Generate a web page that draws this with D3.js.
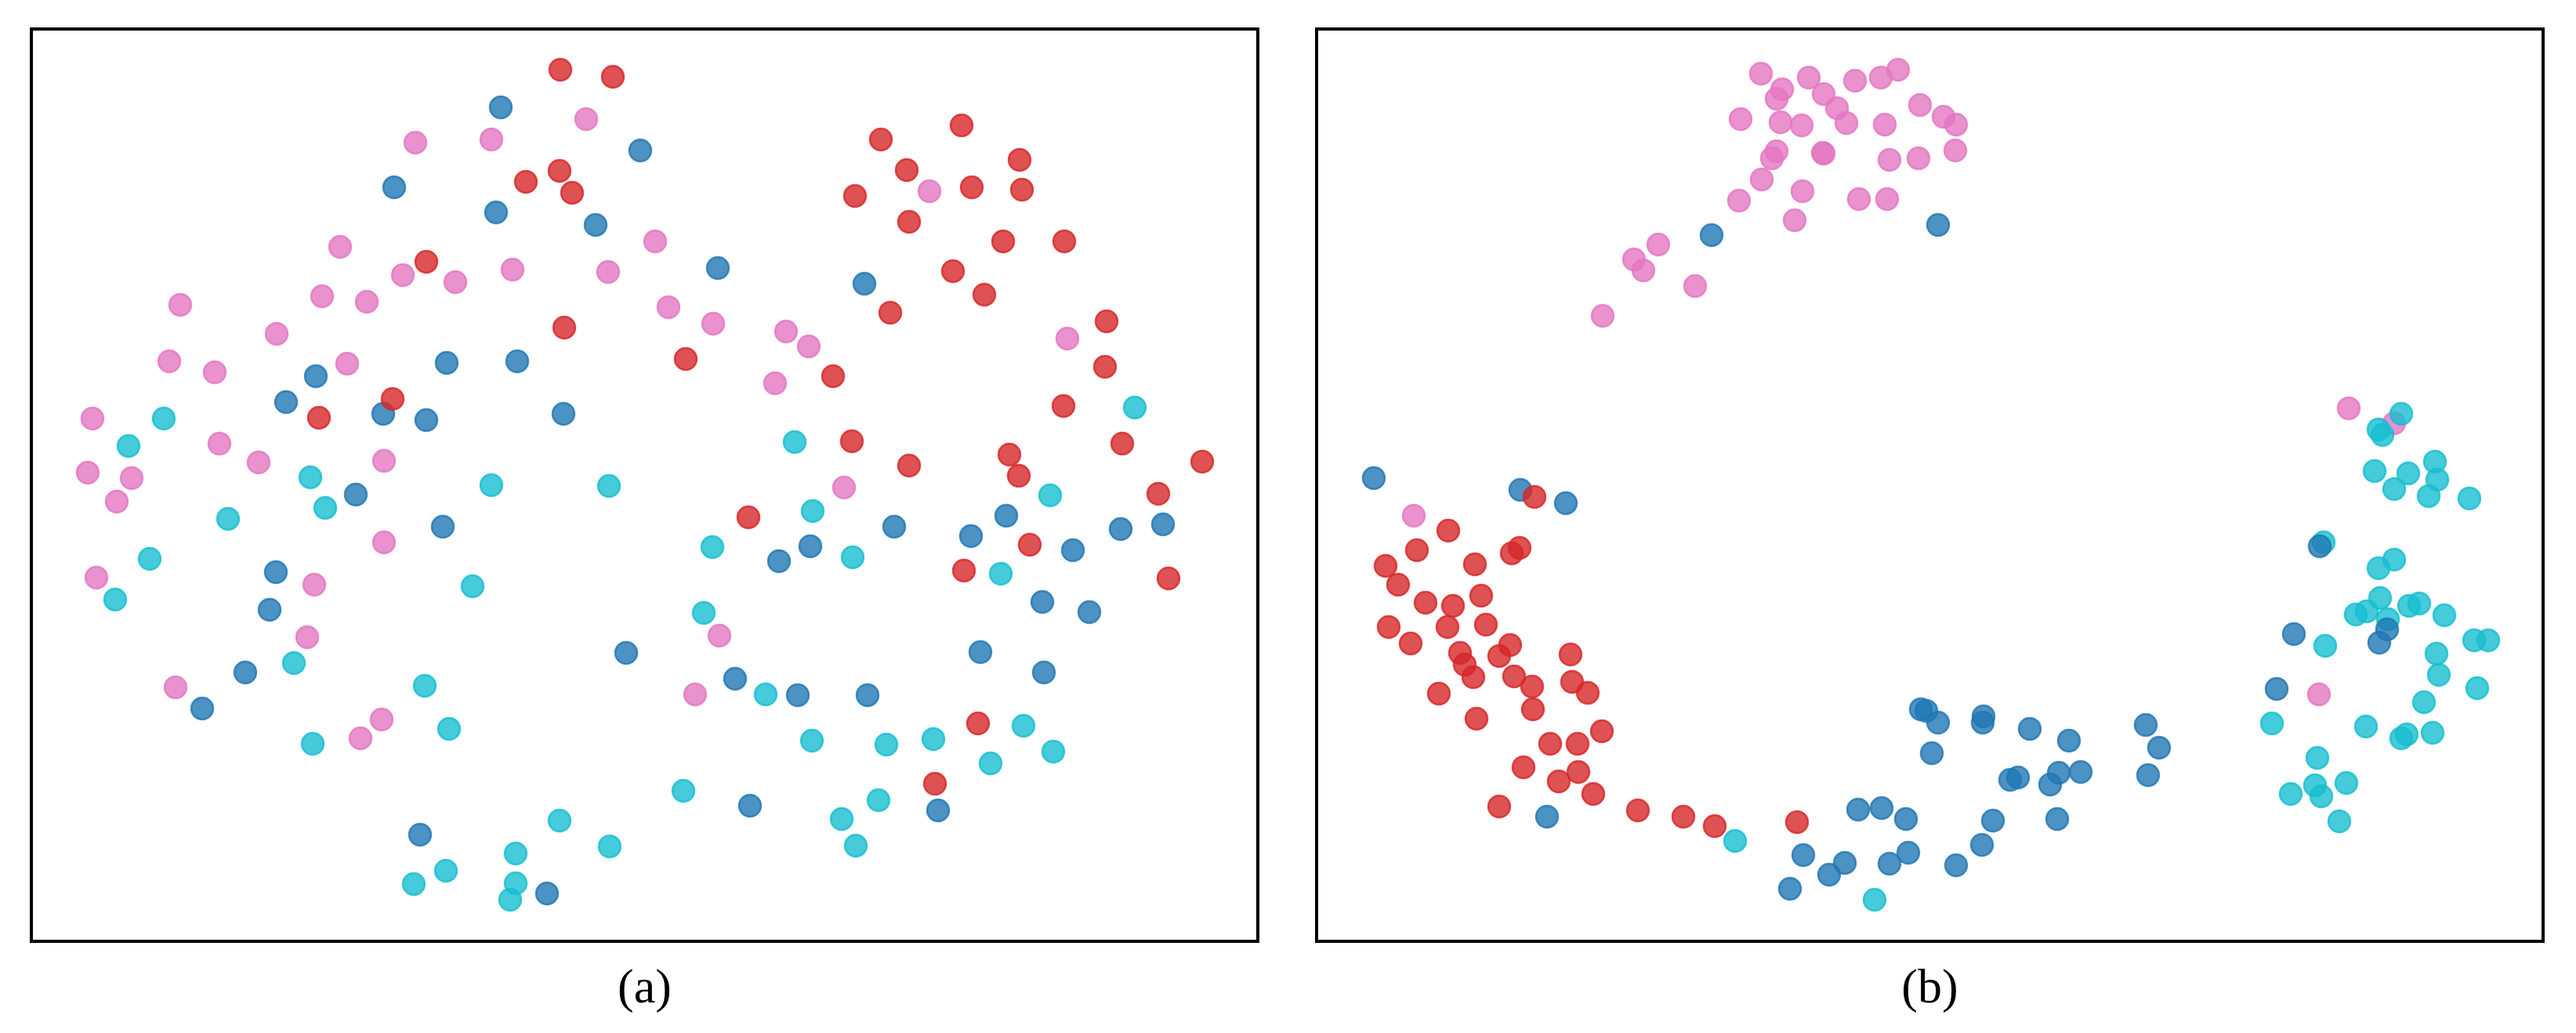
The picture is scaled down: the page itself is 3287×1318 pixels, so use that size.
<!DOCTYPE html>
<html>
<head>
<meta charset="utf-8">
<script src="https://cdn.jsdelivr.net/npm/d3@7"></script>
<style>
  body { margin: 0; background: #fff; }
  .label { font-family: "Liberation Serif", "Times New Roman", serif; font-size: 62px; }
</style>
</head>
<body>
<div id="chart"></div>
<script>
// classes, in the order they are drawn
const classes = ["c3", "c4", "c1", "c2"];
const colors = { c1: "#1f77b4", c2: "#d62728", c3: "#e377c2", c4: "#17becf" };
const panelLabels = ["(a)", "(b)"];

// panel (a) embedding
const aRed = [[67.5,111.2],[74.2,110.3],[67.4,98.3],[63.1,96.9],[69.0,95.5],[50.4,86.7],[68.0,78.3],[46.1,69.2],[36.7,66.8],
  [118.7,104.1],[108.4,102.3],[126.1,99.7],[111.7,98.4],[120.0,96.2],[126.4,95.9],[105.1,95.1],[112.0,91.8],[124.0,89.3],
  [131.8,89.3],[117.6,85.5],[121.6,82.5],[109.6,80.2],[137.2,79.1],[83.5,74.3],[137.0,73.3],[102.3,72.1],[131.7,68.3],
  [104.7,63.8],[112.0,60.7],[124.8,62.1],[126.0,59.4],[139.2,63.5],[149.4,61.2],[143.8,57.1],[91.5,54.1],[127.4,50.6],
  [119.0,47.3],[145.1,46.3],[120.8,27.8],[115.3,20.1]];
const aBlue = [[59.9,106.4],[77.7,100.9],[46.3,96.2],[59.3,93.0],[72.0,91.4],[36.3,72.1],[53.0,73.8],[62.0,74.0],[32.5,68.8],
  [44.9,67.3],[50.4,66.5],[67.9,67.3],[41.4,57.0],[52.5,52.9],[31.2,47.1],[30.4,42.3],[75.9,36.8],[27.3,34.3],[21.8,29.7],
  [49.6,13.6],[65.8,6.1],[87.6,85.9],[106.3,83.9],[110.1,52.9],[124.4,54.3],[119.9,51.7],[139.0,52.6],[144.4,53.2],
  [95.4,48.5],[99.4,50.4],[132.9,49.9],[129.0,43.3],[135.0,42.0],[121.1,36.9],[129.2,34.3],[89.8,33.5],[97.8,31.4],
  [106.7,31.4],[91.7,17.3],[115.7,16.7]];
const aPink = [[70.8,104.9],[49.0,101.9],[58.7,102.3],[79.6,89.3],[39.4,88.6],[47.4,85.0],[54.1,84.1],[61.4,85.7],[73.6,85.4],
  [37.1,82.3],[42.8,81.6],[19.0,81.2],[31.3,77.5],[17.6,74.0],[23.4,72.6],[40.3,73.7],[7.8,66.7],[24.0,63.5],[29.0,61.1],
  [45.0,61.3],[7.2,59.8],[12.8,59.1],[10.9,56.1],[45.0,50.9],[8.3,46.4],[36.1,45.5],[35.2,38.8],[18.4,32.4],[44.7,28.3],
  [42.0,25.9],[114.6,95.7],[81.3,80.9],[87.0,78.8],[96.3,77.8],[99.2,75.9],[132.2,76.9],[94.9,71.2],[103.7,57.9],
  [87.8,39.0],[84.7,31.5]];
const aCyan = [[16.9,66.7],[12.4,63.2],[35.6,59.2],[58.7,58.2],[73.7,58.1],[37.5,55.3],[25.1,53.9],[15.1,48.8],[56.3,45.3],
  [10.7,43.6],[33.5,35.5],[50.2,32.6],[53.3,27.1],[35.9,25.2],[67.4,15.4],[73.8,12.1],[61.8,11.2],[52.9,9.0],[48.8,7.3],
  [61.8,7.4],[61.1,5.3],[140.8,68.1],[97.4,63.7],[130.0,56.9],[99.7,54.9],[86.9,50.3],[104.8,49.0],[123.7,46.9],[85.8,41.9],
  [93.7,31.5],[126.6,27.5],[99.6,25.6],[109.1,25.1],[115.1,25.8],[130.4,24.2],[122.4,22.7],[83.2,19.2],[108.1,18.0],
  [103.4,15.6],[105.2,12.2]];

// panel (b) embedding
const bRed = [[27.8,56.7],[16.8,52.4],[12.8,49.9],[25.9,50.2],[24.9,49.5],[20.2,48.1],[8.8,47.9],[10.4,45.5],[13.9,43.2],
  [17.4,42.8],[21.0,44.1],[9.2,40.1],[16.7,40.1],[21.6,40.4],[12.0,38.0],[24.7,37.8],[23.3,36.4],[18.3,36.8],[18.9,35.3],
  [20.0,33.7],[25.2,33.8],[27.5,32.5],[32.4,36.6],[32.6,33.1],[34.6,31.7],[15.6,31.6],[27.6,29.6],[20.4,28.4],[36.4,26.8],
  [29.8,25.2],[33.3,25.2],[26.4,22.2],[33.4,21.6],[30.9,20.4],[35.3,18.8],[23.3,17.2],[41.0,16.7],[46.8,15.9],[50.8,14.7],
  [61.3,15.2]];
const bBlue = [[50.4,90.1],[79.3,91.4],[7.3,59.1],[26.0,57.6],[31.8,55.9],[29.4,15.9],[77.1,29.6],[77.8,29.4],[79.3,27.9],
  [78.5,24.0],[69.1,16.8],[72.1,17.0],[75.2,15.6],[62.1,11.0],[67.4,10.0],[65.4,8.5],[73.1,9.9],[75.5,11.3],[60.4,6.7],
  [85.1,28.7],[85.0,27.9],[91.0,27.1],[96.0,25.6],[105.8,27.6],[107.5,24.7],[88.5,20.6],[89.5,20.9],[94.7,21.5],[93.6,20.0],
  [97.5,21.6],[106.1,21.2],[86.3,15.4],[94.5,15.6],[84.9,12.3],[81.6,9.7],[128.0,50.4],[136.6,39.8],[135.6,38.1],
  [124.7,39.2],[122.5,32.2]];
const bPink = [[56.7,110.7],[59.4,108.7],[58.7,107.5],[62.8,110.2],[64.7,108.1],[68.7,109.8],[72.0,110.2],[74.2,111.2],
  [66.4,106.3],[67.6,104.4],[54.1,104.9],[59.2,104.5],[61.9,104.1],[72.5,104.2],[77.0,106.7],[80.0,105.2],[81.6,104.2],
  [81.5,100.9],[58.7,100.8],[58.1,99.9],[64.6,100.6],[64.7,100.5],[73.1,99.7],[76.8,99.9],[56.8,97.2],[62.0,95.7],
  [53.9,94.5],[69.2,94.7],[72.8,94.7],[61.0,92.0],[43.6,88.9],[40.5,87.0],[41.7,85.6],[48.3,83.6],[36.5,79.8],[12.4,54.3],
  [131.7,68.0],[137.5,66.1],[127.9,31.5]];
const bCyan = [[53.4,12.8],[71.2,5.3],[138.4,67.3],[135.5,65.3],[136.0,64.6],[142.7,61.2],[135.0,60.0],[139.3,59.7],
  [143.0,58.9],[137.5,57.7],[141.9,56.8],[147.1,56.5],[128.5,50.9],[137.5,48.7],[135.5,47.6],[135.7,43.8],[132.6,41.7],
  [134.0,42.1],[139.4,42.8],[140.7,43.1],[143.9,41.6],[136.7,41.1],[128.7,37.7],[147.7,38.4],[149.5,38.4],[142.9,36.7],
  [143.2,34.0],[148.1,32.3],[141.3,30.5],[121.9,27.8],[133.9,27.4],[139.1,26.4],[138.4,25.9],[142.4,26.6],[127.7,23.4],
  [131.4,20.2],[127.4,19.9],[128.2,18.5],[124.3,18.8],[130.5,15.3]];

const panelsData = [
  { c1: aBlue, c2: aRed, c3: aPink, c4: aCyan },
  { c1: bBlue, c2: bRed, c3: bPink, c4: bCyan }
];

const width = 3287, height = 1318,
    panelLefts = [40, 1680],
    panelW = 1565,
    topY = 37, bottomY = 1201,
    radius = 14;

const svg = d3.select("#chart")
    .append("svg")
    .attr("width", width)
    .attr("height", height);

panelsData.forEach((pd, i) => {
    const left = panelLefts[i];

    const xScale = d3.scaleLinear()
        .domain([0, 156.5])
        .range([left, left + panelW]);

    const yScale = d3.scaleLinear()
        .domain([0, 116.4])
        .range([bottomY, topY]);

    const g = svg.append("g").attr("class", "panel-" + i);

    classes.forEach(c => {
        g.append("g")
            .selectAll("circle")
            .data(pd[c])
            .join("circle")
            .attr("cx", d => xScale(d[0]))
            .attr("cy", d => yScale(d[1]))
            .attr("r", radius)
            .attr("fill", colors[c])
            .attr("fill-opacity", 0.8)
            .attr("stroke", colors[c])
            .attr("stroke-opacity", 0.8)
            .attr("stroke-width", 2.5);
    });

    // frame
    g.append("rect")
        .attr("x", left)
        .attr("y", topY)
        .attr("width", panelW)
        .attr("height", bottomY - topY)
        .attr("fill", "none")
        .attr("stroke", "#000")
        .attr("stroke-width", 4);

    g.append("text")
        .attr("class", "label")
        .attr("x", left + panelW / 2)
        .attr("y", 1279)
        .attr("text-anchor", "middle")
        .text(panelLabels[i]);
});
</script>
</body>
</html>
